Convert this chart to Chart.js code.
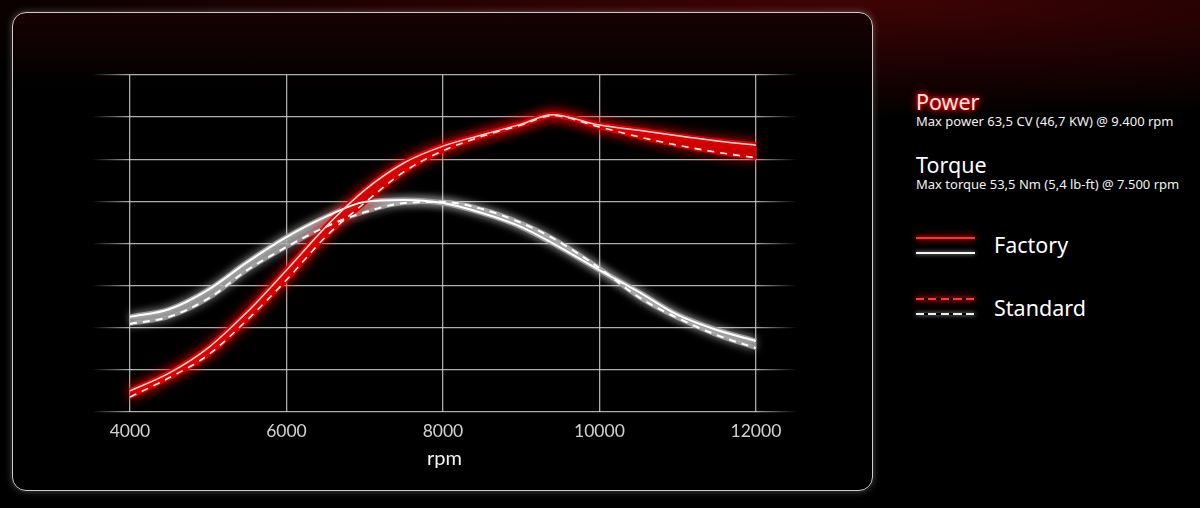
<!DOCTYPE html>
<html>
<head>
<meta charset="utf-8">
<script src="https://cdn.jsdelivr.net/npm/chart.js@4.4.0/dist/chart.umd.min.js"></script>
<style>
  html, body { margin: 0; padding: 0; }
  body {
    width: 1200px; height: 508px; overflow: hidden; position: relative;
    background: radial-gradient(ellipse 1000px 120px at 70% 0, rgba(85,4,6,0.75), rgba(0,0,0,0) 100%), #000;
    font-family: 'Noto Sans', 'Open Sans', sans-serif; color: #fff;
  }
  .panel {
    position: absolute; left: 12px; top: 12px; width: 859px; height: 477px;
    border: 1.5px solid #cfcaca; border-radius: 14px;
    background: linear-gradient(180deg, #170203 0px, #000 80px);
    box-shadow: 0 0 7px rgba(255,255,255,0.3);
  }
  .chart-box { position: absolute; left: 92px; top: 70px; width: 705px; height: 405px; }
  .leg { position: absolute; left: 916px; white-space: nowrap; line-height: 1; }
  .big { font-size: 21.5px; }
  .small { font-size: 13px; color: #f2f2f2; }
  .power { color: #ffe6e6; text-shadow: 0 0 3px #ff0000, 0 0 6px #ff0000, 0 0 10px #d00000; }
  .swatch { position: absolute; left: 916px; width: 59px; height: 2px; }
  .red { background: #ff3030; box-shadow: 0 0 4px #ff0000, 0 0 8px #c00000; }
  .white { background: #f4f4f4; box-shadow: 0 0 4px rgba(255,255,255,0.7); }
  .red.dash { background: repeating-linear-gradient(90deg, #ff3a3a 0 8px, transparent 8px 12.5px); }
  .white.dash { background: repeating-linear-gradient(90deg, #eeeeee 0 8px, transparent 8px 12.5px); }
</style>
</head>
<body>
<div class="panel"></div>
<div class="chart-box"><canvas id="engineChart"></canvas></div>

<div class="leg big power" style="top:91px">Power</div>
<div class="leg small" style="top:114.5px">Max power 63,5 CV (46,7 KW) @ 9.400 rpm</div>
<div class="leg big" style="top:154px">Torque</div>
<div class="leg small" style="top:177.5px">Max torque 53,5 Nm (5,4 lb-ft) @ 7.500 rpm</div>

<div class="swatch red" style="top:237px"></div>
<div class="swatch white" style="top:252px"></div>
<div class="leg big" style="left:994px; top:234px">Factory</div>
<div class="swatch red dash" style="top:298px"></div>
<div class="swatch white dash" style="top:313px"></div>
<div class="leg big" style="left:994px; top:297px">Standard</div>

<script>
// rpm sample points
const rpm = [4000, 4500, 5000, 5500, 6000, 6500, 7000, 7500, 8000, 8500, 9000, 9400, 10000, 10500, 11000, 11500, 12000];
const xTicks = [4000, 6000, 8000, 10000, 12000];

// power, CV
const powerFactory  = [4.5, 8.3, 13.7, 21.4, 30.3, 39.5, 47.4, 53.2, 56.8, 59.2, 61.5, 63.5, 61.3, 60.2, 59.0, 57.9, 57.0];
const powerStandard = [3.2, 7.3, 12.2, 19.7, 28.2, 37.4, 44.7, 51.3, 55.8, 58.9, 61.3, 63.3, 60.9, 58.8, 57.0, 55.5, 54.3];

// torque, Nm
const torqueFactory  = [24.0, 25.9, 30.8, 37.8, 44.1, 49.2, 53.0, 53.5, 52.7, 50.2, 46.7, 42.6, 35.8, 30.3, 24.5, 20.7, 17.9];
const torqueStandard = [22.2, 24.0, 28.6, 35.8, 41.6, 46.7, 50.4, 52.7, 53.0, 51.2, 47.7, 43.9, 36.3, 29.0, 23.7, 19.4, 16.1];

const toPoints = vals => vals.map((v, i) => ({ x: rpm[i], y: v }));

// soft glow behind the lines
const glowPlugin = {
    id: 'glow',
    beforeDatasetDraw(chart, args) {
        const ds = chart.data.datasets[args.index];
        chart.ctx.save();
        if (ds.glowColor) {
            chart.ctx.shadowColor = ds.glowColor;
            chart.ctx.shadowBlur = ds.glowBlur || 8;
        }
    },
    afterDatasetDraw(chart) {
        chart.ctx.restore();
    }
};

function fadeGrid(ctx) {
    const area = ctx.chart.chartArea;
    if (!area) return 'rgba(205,205,205,0.85)';
    const g = ctx.chart.ctx.createLinearGradient(area.left, 0, area.right, 0);
    g.addColorStop(0, 'rgba(205,205,205,0)');
    g.addColorStop(0.055, 'rgba(205,205,205,0.85)');
    g.addColorStop(0.94, 'rgba(205,205,205,0.85)');
    g.addColorStop(1, 'rgba(205,205,205,0)');
    return g;
}

const line = (data, axis, color, width, dash) => ({
    data: toPoints(data),
    yAxisID: axis,
    borderColor: color,
    borderWidth: width,
    borderDash: dash || [],
    pointRadius: 0,
    cubicInterpolationMode: 'monotone',
    fill: false
});

const datasets = [
    // thin cores on top
    line(powerFactory, 'yP', '#ffdada', 1.5),
    line(powerStandard, 'yP', '#fff2f2', 1.6, [7, 6]),
    line(torqueFactory, 'yT', '#ffffff', 2),
    line(torqueStandard, 'yT', '#ffffff', 2, [7, 6]),
    // coloured glow bands underneath
    Object.assign(line(powerFactory, 'yP', '#e00000', 5.5), {
        glowColor: '#ff0000', glowBlur: 12,
        fill: { target: 5, above: 'rgba(205,0,0,0.9)', below: 'rgba(205,0,0,0.9)' }
    }),
    Object.assign(line(powerStandard, 'yP', '#d00000', 4.5), { glowColor: '#ff0000', glowBlur: 12 }),
    Object.assign(line(torqueFactory, 'yT', '#a0a0a0', 5), {
        glowColor: 'rgba(255,255,255,0.7)', glowBlur: 9,
        fill: { target: 7, above: 'rgba(150,150,150,0.75)', below: 'rgba(150,150,150,0.75)' }
    }),
    Object.assign(line(torqueStandard, 'yT', '#8c8c8c', 4), { glowColor: 'rgba(255,255,255,0.6)', glowBlur: 9 })
];

new Chart(document.getElementById('engineChart').getContext('2d'), {
    type: 'line',
    data: { datasets: datasets },
    options: {
        responsive: true,
        maintainAspectRatio: false,
        animation: false,
        layout: { padding: { top: 5, left: 0, right: 0, bottom: 0 } },
        plugins: {
            legend: { display: false },
            tooltip: { enabled: false }
        },
        scales: {
            x: {
                type: 'linear',
                min: 3515,
                max: 12525,
                afterBuildTicks: scale => { scale.ticks = xTicks.map(v => ({ value: v })); },
                border: { display: false },
                grid: { color: 'rgba(200,200,200,0.85)', lineWidth: 1.3, drawTicks: false },
                ticks: {
                    padding: 9,
                    color: '#d2d2d2',
                    font: { family: 'Lato', size: 17.5 },
                    callback: v => String(v)
                },
                title: {
                    display: true,
                    text: 'rpm',
                    color: '#f4f4f4',
                    font: { family: 'Lato', size: 20 },
                    padding: { top: -4, bottom: 4 }
                }
            },
            yP: {
                position: 'left',
                min: 0,
                max: 72,
                border: { display: false },
                grid: { color: fadeGrid, lineWidth: 1.3, drawTicks: false },
                ticks: { display: false, stepSize: 9 }
            },
            yT: {
                position: 'right',
                display: false,
                min: 0,
                max: 85
            }
        }
    },
    plugins: [glowPlugin]
});
</script>
</body>
</html>
